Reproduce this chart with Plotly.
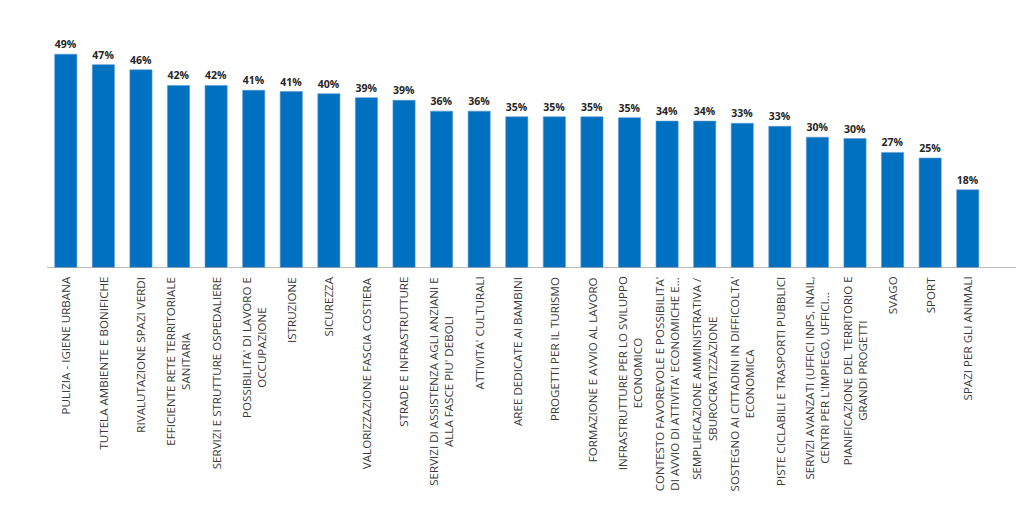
import math
import plotly.graph_objects as go

categories = [
    "PULIZIA - IGIENE URBANA",
    "TUTELA AMBIENTE E BONIFICHE",
    "RIVALUTAZIONE SPAZI VERDI",
    "EFFICIENTE RETE TERRITORIALE<br>SANITARIA",
    "SERVIZI E STRUTTURE OSPEDALIERE",
    "POSSIBILITA' DI LAVORO E<br>OCCUPAZIONE",
    "ISTRUZIONE",
    "SICUREZZA",
    "VALORIZZAZIONE FASCIA COSTIERA",
    "STRADE E INFRASTRUTTURE",
    "SERVIZI DI ASSISTENZA AGLI ANZIANI E<br>ALLA FASCE PIU' DEBOLI",
    "ATTIVITA' CULTURALI",
    "AREE DEDICATE AI BAMBINI",
    "PROGETTI PER IL TURISMO",
    "FORMAZIONE E AVVIO AL LAVORO",
    "INFRASTRUTTURE PER LO SVILUPPO<br>ECONOMICO",
    "CONTESTO FAVOREVOLE E POSSIBILITA'<br>DI AVVIO DI ATTIVITA' ECONOMICHE E...",
    "SEMPLIFICAZIONE AMMINISTRATIVA /<br>SBUROCRATIZZAZIONE",
    "SOSTEGNO AI CITTADINI IN DIFFICOLTA'<br>ECONOMICA",
    "PISTE CICLABILI E TRASPORTI PUBBLICI",
    "SERVIZI AVANZATI (UFFICI INPS, INAIL,<br>CENTRI PER L'IMPIEGO, UFFICI...",
    "PIANIFICAZIONE DEL TERRITORIO E<br>GRANDI PROGETTI",
    "SVAGO",
    "SPORT",
    "SPAZI PER GLI ANIMALI",
]

values = [49.2, 46.8, 45.6, 42.0, 42.0, 40.9, 40.6, 40.1, 39.2, 38.6,
          36.1, 36.1, 34.8, 34.8, 34.8, 34.6, 33.8, 33.8, 33.3, 32.6,
          30.1, 29.8, 26.6, 25.3, 18.0]

x_idx = list(range(len(categories)))

fig = go.Figure()
fig.add_trace(go.Bar(
    x=x_idx,
    y=values,
    marker=dict(color="#0070C0", line=dict(color="#5B9BD5", width=0.6)),
    text=[f"{int(math.floor(v + 0.5))}%" for v in values],
    textposition="outside",
    textfont=dict(family="Open Sans", size=10.5, color="#262626", weight="bold"),
    cliponaxis=False,
    width=0.59,
))

for i, c in enumerate(categories):
    fig.add_annotation(
        x=i, y=-0.028, xref="x", yref="paper",
        text=c, textangle=-90, showarrow=False,
        xanchor="center", yanchor="top", align="center",
        font=dict(family="Open Sans", size=11.6, color="#3a3a3a"),
    )

# page body has an 8px default margin, so the figure is sized to compensate
fig.update_layout(
    width=1016, height=497,
    margin=dict(l=39, r=1, t=21, b=237),
    paper_bgcolor="white", plot_bgcolor="white",
    showlegend=False,
    bargap=0.41,
    xaxis=dict(
        range=[-0.5, 25.47], showticklabels=False, showgrid=False,
        zeroline=False, showline=False, ticks="",
    ),
    yaxis=dict(
        range=[0, 55], visible=False, showgrid=False, zeroline=False,
    ),
    shapes=[dict(type="line", xref="paper", yref="y", x0=0, x1=1, y0=0, y1=0,
                 line=dict(color="#a6a6a6", width=1.5))],
)

fig.write_html("out.html")
